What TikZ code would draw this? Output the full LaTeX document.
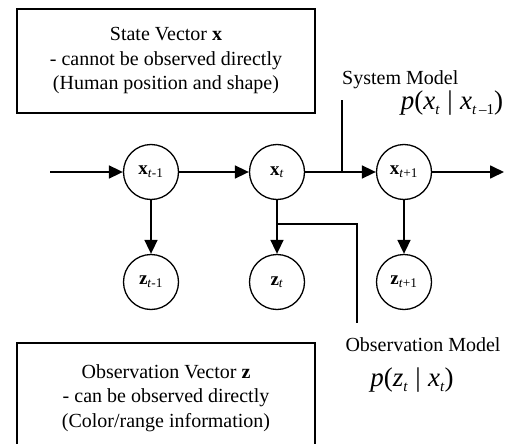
\documentclass[tikz,border=0pt]{standalone}
\usepackage{fontspec}
\setmainfont{Liberation Serif}
\usetikzlibrary{arrows.meta,positioning}

\newcommand{\lowsub}[1]{\raisebox{-5pt}{\fontsize{15}{15}\selectfont #1}}

\begin{document}
\begin{tikzpicture}[x=1pt,y=-1pt,
    state/.style={circle,draw,line width=1.3pt,minimum size=55pt,inner sep=0pt,
      font=\fontsize{19}{19}\selectfont},
    link/.style={line width=1.7pt,-{Triangle[length=14pt,width=13pt]}},
    model/.style={line width=1.3pt},
    infobox/.style={draw,line width=1.5pt,align=center,minimum width=298pt,
      font=\fontsize{20}{24.5}\selectfont},
    modeltxt/.style={inner sep=0pt,font=\fontsize{20}{20}\selectfont},
    prob/.style={inner sep=0pt,font=\fontsize{27}{27}\selectfont}]

      \def\xa{151}
      \def\xb{277}
      \def\xc{404}
      \def\ytop{172}
      \def\ybot{282}

      \clip (0,0) rectangle (511,444);

      % text boxes
      \node (statebox) at (166,61) [infobox,minimum height=104pt]
            {State Vector \textbf{x}\\
             - cannot be observed directly\\
             (Human position and shape)};
      \node (obsbox) at (166,398) [infobox,minimum height=110pt]
            {Observation Vector \textbf{z}\\
             - can be observed directly\\
             (Color/range information)};

      % states and observations
      \node (x1) at (\xa,\ytop) [state] {\textbf{x}\textsubscript{\textit{t}-1}};
      \node (x2) at (\xb,\ytop) [state] {\textbf{x}\textsubscript{\textit{t}}};
      \node (x3) at (\xc,\ytop) [state] {\textbf{x}\textsubscript{\textit{t}+1}};
      \node (z1) at (\xa,\ybot) [state] {\textbf{z}\textsubscript{\textit{t}-1}};
      \node (z2) at (\xb,\ybot) [state] {\textbf{z}\textsubscript{\textit{t}}};
      \node (z3) at (\xc,\ybot) [state] {\textbf{z}\textsubscript{\textit{t}+1}};

      \coordinate (xin) at (50,\ytop);
      \coordinate (xout) at (504,\ytop);

      % chain
      \draw[link] (xin) -- (x1);
      \draw[link] (x1) -- (x2);
      \draw[link] (x2) -- (x3);
      \draw[link] (x3) -- (xout);
      \foreach \i in {1,2,3}
               {
                 \draw[link] (x\i) -- (z\i);
               }

      % system model
      \coordinate (sysjoin) at (342,\ytop);
      \coordinate (sysend) at (342,100);
      \draw[model] (sysend) -- (sysjoin);
      \node (systxt) at (342,80) [modeltxt,anchor=west] {System Model};
      \node (sysprob) at (452,103) [prob]
            {\textit{p}(\textit{x}\lowsub{\textit{t}}\;|\;%
             \textit{x}\lowsub{\textit{t}\,–1})};

      % observation model
      \coordinate (obsjoin) at (\xb,224);
      \coordinate (obsend) at (357,323);
      \draw[model] (obsjoin) -| (obsend);
      \node (obstxt) at (423,345) [modeltxt] {Observation Model};
      \node (obsprob) at (412,380) [prob]
            {\textit{p}(\textit{z}\lowsub{\textit{t}}\;|\;%
             \textit{x}\lowsub{\textit{t}})};
\end{tikzpicture}
\end{document}
